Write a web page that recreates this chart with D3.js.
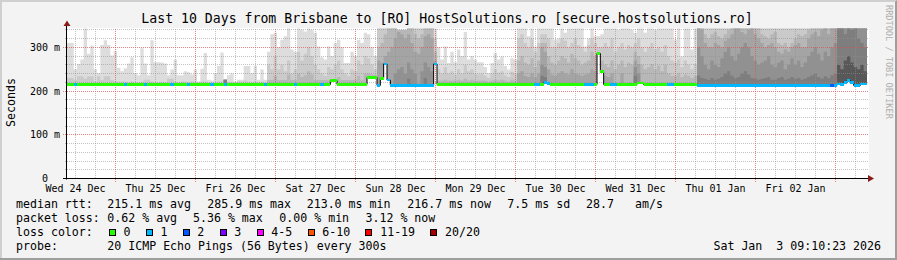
<!DOCTYPE html>
<html><head><meta charset="utf-8">
<script src="https://cdn.jsdelivr.net/npm/d3@7"></script>
<style>
html,body{margin:0;padding:0;background:#f3f3f3;}
svg{display:block;}
text{font-family:"DejaVu Sans Mono",monospace;white-space:pre;}
</style></head><body>
<svg id="c" width="897" height="260"></svg>
<script>
// ---------------- DATA ----------------
const title = "Last 10 Days from Brisbane to [RO] HostSolutions.ro [secure.hostsolutions.ro]";
const yTickValues = [0, 100, 200, 300];
const yTickLabels = ["0", "100 m", "200 m", "300 m"];
const dayLabels = ["Wed 24 Dec","Thu 25 Dec","Fri 26 Dec","Sat 27 Dec","Sun 28 Dec","Mon 29 Dec","Tue 30 Dec","Wed 31 Dec","Thu 01 Jan","Fri 02 Jan"];
// hourly median RTT (ms), 240 hours
const median = [
215,215,215,215,215,215,215,215,215,215,
215,215,215,215,215,215,215,215,215,215,
215,215,215,215,215,215,215,215,215,215,
215,215,215,215,215,215,215,215,215,215,
215,215,215,215,215,215,215,215,215,215,
215,215,215,215,215,215,215,215,215,215,
215,215,215,215,215,215,215,215,215,215,
215,215,215,215,215,215,215,215,215,224,
224,215,215,215,215,215,215,215,215,215,
231,231,231,213,229,262,225,213,213,213,
213,213,213,213,213,213,213,213,213,213,
262,215,215,215,215,215,215,215,215,215,
215,215,215,215,215,215,215,215,215,215,
215,215,215,215,215,215,215,215,215,215,
215,215,215,219,217,215,215,215,215,215,
215,215,215,215,215,215,215,215,215,286,
244,215,215,215,215,215,215,215,215,215,
215,218,218,215,215,215,215,215,215,215,
215,215,215,215,215,215,215,215,215,213,
213,213,213,213,213,213,213,213,213,213,
213,213,213,213,213,213,213,213,213,213,
213,213,213,213,213,213,213,213,213,213,
213,213,213,213,213,213,213,213,213,213,
213,216,215,219,224,219,213,213,216,216];
// loss class index per hour (0 -> "0", 1 -> "1", 2 -> "2", ...)
const loss = [
0,0,1,0,0,0,0,0,0,0,
0,0,0,0,0,0,0,1,0,0,
0,0,0,1,0,0,0,0,0,0,
0,1,0,0,0,0,1,0,0,0,
0,0,0,1,0,0,0,1,0,0,
0,0,0,0,0,0,0,0,0,1,
0,0,0,0,0,0,0,0,1,0,
0,0,0,0,0,0,1,0,0,0,
0,0,0,0,0,0,0,0,0,0,
0,0,0,1,0,1,1,1,1,1,
1,1,1,1,1,1,1,1,1,1,
1,0,0,0,0,0,0,0,0,0,
0,0,0,0,0,0,0,0,0,0,
0,0,0,0,0,0,0,0,0,0,
1,1,0,1,1,0,0,0,0,0,
0,0,0,0,0,1,1,1,0,0,
0,0,0,1,1,0,0,0,0,0,
0,0,0,0,0,0,0,0,0,0,
1,1,0,0,0,0,0,0,0,1,
1,1,1,1,1,1,1,1,1,1,
1,1,1,1,1,1,1,1,1,1,
1,1,1,1,1,1,1,1,1,1,
1,1,1,1,1,1,1,1,1,2,
1,1,1,1,1,1,1,1,1,1];
// smoke: upper edge (ms) reached by at least 1,2,3,4,5,6,8 pings (0 = none)
const smoke1 = [
310,310,250,262,272,345,285,304,250,241,
305,316,305,281,291,253,245,252,263,277,
241,236,298,263,236,316,266,266,265,263,
236,249,272,236,236,245,243,238,249,222,
251,287,226,224,241,257,288,226,236,240,
222,226,226,257,257,241,257,226,249,226,
290,330,333,300,317,325,344,295,290,344,
340,336,344,340,333,302,277,272,302,280,
310,317,300,264,264,290,280,317,310,333,
330,300,280,345,345,345,345,345,345,340,
340,340,345,345,345,345,345,345,345,345,
345,300,272,302,264,290,266,295,280,335,
272,280,272,266,266,255,241,264,287,272,
279,257,249,275,272,345,345,345,325,345,
302,345,345,345,345,345,317,320,345,333,
345,345,345,345,345,302,320,345,325,325,
330,345,345,345,345,340,345,345,345,340,
333,345,345,333,345,345,340,345,345,345,
345,345,317,345,279,345,345,295,345,345,
345,345,345,345,345,345,345,345,345,345,
345,345,345,345,345,345,345,345,345,345,
345,345,345,345,345,345,345,345,345,345,
345,345,345,345,345,345,345,345,345,345,
345,345,345,345,345,345,345,345,345,345];
const smoke2 = [
230,230,225,234,234,228,234,234,222,234,
225,234,234,225,222,222,222,222,220,222,
220,220,222,226,226,222,220,220,222,220,
228,228,222,220,222,222,220,222,220,220,
222,222,220,220,220,222,222,226,220,220,
220,222,222,224,222,220,222,220,222,220,
260,250,280,250,260,245,270,240,250,290,
270,285,300,280,260,250,240,235,255,250,
260,270,250,240,235,250,245,270,260,280,
275,260,250,345,345,345,345,345,345,338,
338,338,345,345,345,345,345,345,345,345,
320,250,240,255,240,245,238,250,240,260,
245,250,240,238,240,235,230,240,250,242,
245,236,232,244,240,320,330,310,300,320,
290,310,330,330,320,300,300,310,320,315,
300,310,320,305,300,290,305,320,310,300,
300,310,300,320,290,300,310,295,305,300,
310,320,300,290,300,310,295,300,290,305,
280,270,265,272,255,270,260,250,262,345,
345,345,345,345,345,345,345,345,345,345,
345,345,345,345,345,345,345,345,345,345,
345,345,345,345,345,345,345,345,345,345,
345,345,345,345,345,345,345,345,345,345,
345,345,345,345,345,345,345,345,345,345];
const smoke3 = [
0,0,0,0,0,0,0,0,0,0,
0,0,0,0,0,0,0,0,0,0,
0,0,0,0,0,0,0,0,0,0,
0,0,0,0,0,0,0,0,0,0,
0,0,0,0,0,0,0,226,0,0,
0,0,0,0,0,0,0,0,0,0,
225,225,235,225,225,225,238,225,225,240,
232,236,245,238,225,225,225,225,225,0,
0,232,225,225,225,225,225,235,225,240,
240,238,236,300,310,330,345,345,345,340,
340,340,345,345,330,320,330,345,345,345,
290,224,224,226,224,224,224,226,224,228,
224,226,224,224,224,224,222,224,226,224,
226,224,222,226,224,270,280,265,260,275,
255,270,310,310,280,265,260,270,280,275,
265,285,275,270,260,265,270,290,280,0,
270,260,255,270,250,260,270,255,265,260,
290,280,260,250,255,262,250,258,245,260,
240,235,235,240,232,238,235,230,235,345,
345,330,320,330,335,325,320,330,340,345,
345,345,345,345,345,345,345,345,330,325,
320,330,335,310,305,310,300,310,320,330,
325,330,340,345,345,345,345,345,345,345,
345,345,345,345,345,345,345,345,345,345];
const smoke4 = [
0,0,0,0,0,0,0,0,0,0,
0,0,0,0,0,0,0,0,0,0,
0,0,0,0,0,0,0,0,0,0,
0,0,0,0,0,0,0,0,0,0,
0,0,0,0,0,0,0,226,0,0,
0,0,0,0,0,0,0,0,0,0,
0,0,0,0,0,0,0,0,0,0,
0,0,0,0,0,0,0,0,0,0,
0,0,0,0,0,0,0,0,0,0,
0,0,0,270,265,280,290,300,320,335,
330,320,330,310,290,285,300,325,330,320,
270,0,0,0,0,0,0,0,0,0,
0,0,0,0,0,0,0,0,0,0,
0,0,0,0,0,240,245,235,232,240,
232,240,300,290,250,238,235,240,245,240,
238,250,240,238,235,238,240,250,245,0,
0,235,232,240,0,0,240,0,0,0,
270,262,0,0,0,0,0,0,0,0,
0,0,0,0,0,0,0,0,0,345,
340,310,300,300,310,305,300,315,320,330,
345,345,335,330,340,345,330,320,310,300,
305,310,300,290,285,295,290,300,305,310,
300,300,320,330,335,325,340,345,330,345,
345,345,345,345,345,345,345,345,345,345];
const smoke5 = [
0,0,0,0,0,0,0,0,0,0,
0,0,0,0,0,0,0,0,0,0,
0,0,0,0,0,0,0,0,0,0,
0,0,0,0,0,0,0,0,0,0,
0,0,0,0,0,0,0,226,0,0,
0,0,0,0,0,0,0,0,0,0,
0,0,0,0,0,0,0,0,0,0,
0,0,0,0,0,0,0,0,0,0,
0,0,0,0,0,0,0,0,0,0,
0,0,0,0,0,235,0,0,240,250,
255,240,265,250,240,0,245,265,255,245,
0,0,0,0,0,0,0,0,0,0,
0,0,0,0,0,0,0,0,0,0,
0,0,0,0,0,0,0,0,0,0,
0,0,260,255,0,0,0,0,0,0,
0,0,0,0,0,0,0,0,0,0,
0,0,0,0,0,0,0,0,0,0,
255,240,0,0,0,0,0,0,0,0,
0,0,0,0,0,0,0,0,0,300,
280,260,250,270,260,255,275,290,300,280,
270,285,300,310,300,280,270,260,265,270,
280,260,255,265,270,250,260,275,260,270,
255,265,280,290,300,285,270,290,280,300,
310,345,345,345,345,345,345,345,345,345];
const smoke6 = [
0,0,0,0,0,0,0,0,0,0,
0,0,0,0,0,0,0,0,0,0,
0,0,0,0,0,0,0,0,0,0,
0,0,0,0,0,0,0,0,0,0,
0,0,0,0,0,0,0,226,0,0,
0,0,0,0,0,0,0,0,0,0,
0,0,0,0,0,0,0,0,0,0,
0,0,0,0,0,0,0,0,0,0,
0,0,0,0,0,0,0,0,0,0,
0,0,0,0,0,0,0,0,0,0,
0,0,228,0,0,0,0,230,0,0,
0,0,0,0,0,0,0,0,0,0,
0,0,0,0,0,0,0,0,0,0,
0,0,0,0,0,0,0,0,0,0,
0,0,235,232,0,0,0,0,0,0,
0,0,0,0,0,0,0,0,0,0,
0,0,0,0,0,0,0,0,0,0,
235,0,0,0,0,0,0,0,0,0,
0,0,0,0,0,0,0,0,0,235,
230,228,225,230,226,228,232,240,245,235,
230,232,240,245,238,230,228,226,228,230,
232,226,226,230,232,226,228,232,228,230,
226,228,232,236,240,232,228,234,230,236,
240,345,345,330,345,340,345,320,310,300];
const smoke8 = [
0,0,0,0,0,0,0,0,0,0,
0,0,0,0,0,0,0,0,0,0,
0,0,0,0,0,0,0,0,0,0,
0,0,0,0,0,0,0,0,0,0,
0,0,0,0,0,0,0,0,0,0,
0,0,0,0,0,0,0,0,0,0,
0,0,0,0,0,0,0,0,0,0,
0,0,0,0,0,0,0,0,0,0,
0,0,0,0,0,0,0,0,0,0,
0,0,0,0,0,0,0,0,0,0,
0,0,0,0,0,0,0,0,0,0,
0,0,0,0,0,0,0,0,0,0,
0,0,0,0,0,0,0,0,0,0,
0,0,0,0,0,0,0,0,0,0,
0,0,0,0,0,0,0,0,0,0,
0,0,0,0,0,0,0,0,0,0,
0,0,0,0,0,0,0,0,0,0,
0,0,0,0,0,0,0,0,0,0,
0,0,0,0,0,0,0,0,0,0,
0,0,0,0,0,0,0,0,0,0,
0,0,0,0,0,0,0,0,0,0,
0,0,0,0,0,0,0,0,0,0,
0,0,0,0,0,0,0,0,0,0,
0,260,250,270,280,265,255,250,260,245];
const lossLabels = ["0","1","2","3","4-5","6-10","11-19","20/20"];
const rttStats = ["215.1 ms avg","285.9 ms max","213.0 ms min","216.7 ms now","7.5 ms sd","28.7","am/s"];
const lossStats = ["0.62 % avg","5.36 % max","0.00 % min","3.12 % now"];
const probeText = "20 ICMP Echo Pings (56 Bytes) every 300s";
const dateText = "Sat Jan  3 09:10:23 2026";
const watermark = "RRDTOOL / TOBI OETIKER";

// ---------------- STYLE / LAYOUT ----------------
const lossColors = ["#26ff00","#00b8ff","#0059ff","#7e00ff","#ff00ff","#ff5500","#ff0000","#a00000"];
const smokeLayers = [smoke1, smoke2, smoke3, smoke4, smoke5, smoke6, smoke8];
const smokeColors = ["#dddddd","#cacaca","#b7b7b7","#a4a4a4","#919191","#7e7e7e","#585858"];
const W = 897, H = 260;
const X0 = 67, X1 = 867, YB = 178.5, YT = 28.5;
const HOUR = 3600e3;
const t0 = Date.UTC(2025, 11, 24, 9, 27);
const N = median.length;

const svg = d3.select("#c");
const x = d3.scaleUtc([new Date(t0), new Date(t0 + N * HOUR)], [X0, X1]);
const y = d3.scaleLinear([0, 343], [YB, YT]);
const tk = k => new Date(t0 + k * HOUR);

// background + shading
svg.append("rect").attr("width", W).attr("height", H).attr("fill", "#f3f3f3");
svg.append("path").attr("d", `M0,0H${W}V2H2V${H}H0Z`).attr("fill", "#cfcfcf");
svg.append("path").attr("d", `M${W},0V${H}H0V${H-2}H${W-2}V2Z`).attr("fill", "#9e9e9e");

// canvas
svg.append("rect").attr("x", X0).attr("y", 28).attr("width", X1 - X0 + 2).attr("height", YB - 28)
  .attr("fill", "#ffffff");

svg.append("defs").append("clipPath").attr("id", "plot")
  .append("rect").attr("x", X0).attr("y", YT).attr("width", X1 - X0).attr("height", YB - YT);

// smoke
const idx = d3.range(N + 1);
const at = (arr, i) => arr[Math.min(i, N - 1)];
const gSmoke = svg.append("g").attr("clip-path", "url(#plot)");
smokeLayers.forEach((arr, li) => {
  const area = d3.area().curve(d3.curveStepAfter)
    .x(i => x(tk(i)))
    .y0(i => y(at(median, i)))
    .y1(i => y(Math.max(at(arr, i), at(median, i))));
  gSmoke.append("path").attr("d", area(idx)).attr("fill", smokeColors[li]);
});

// grid
const gGrid = svg.append("g").attr("shape-rendering", "crispEdges");
const minorCol = "rgba(143,143,143,0.55)", majorCol = "rgba(222,80,80,0.7)";
const yMinor = d3.range(20, 343, 20).filter(v => v % 100 !== 0);
const yMajor = [100, 200, 300];
const sy = v => Math.floor(y(v)) + 0.5;
yMinor.forEach(v => gGrid.append("line").attr("x1", X0 - 2).attr("x2", X1 + 2)
  .attr("y1", sy(v)).attr("y2", sy(v)).attr("stroke", minorCol).attr("stroke-dasharray", "1,1"));
const days = d3.utcDay.range(tk(0), tk(N));
const minorT = d3.utcHour.every(6).range(tk(0), tk(N)).filter(d => d.getUTCHours() !== 0);
minorT.forEach(d => { const xx = Math.floor(x(d)) + 0.5;
  gGrid.append("line").attr("x1", xx).attr("x2", xx).attr("y1", YT).attr("y2", YB)
    .attr("stroke", minorCol).attr("stroke-dasharray", "1,1"); });
yMajor.forEach(v => gGrid.append("line").attr("x1", X0 - 4).attr("x2", X1 + 2)
  .attr("y1", sy(v)).attr("y2", sy(v)).attr("stroke", majorCol).attr("stroke-dasharray", "1,1"));
days.forEach(d => { const xx = Math.floor(x(d)) + 0.5;
  gGrid.append("line").attr("x1", xx).attr("x2", xx).attr("y1", YT).attr("y2", YB + 3)
    .attr("stroke", majorCol).attr("stroke-dasharray", "1,1"); });

// median black step line
const mline = d3.line().curve(d3.curveStepAfter).x(i => x(tk(i))).y(i => y(at(median, i)));
svg.append("path").attr("d", mline(idx)).attr("fill", "none").attr("stroke", "#000").attr("stroke-width", 1);

// median band coloured by loss
svg.append("g").attr("shape-rendering", "crispEdges").selectAll("rect").data(median).join("rect")
  .attr("x", (m, k) => x(tk(k))).attr("width", (m, k) => x(tk(k + 1)) - x(tk(k)))
  .attr("y", m => y(m) - 1.3).attr("height", 2.6)
  .attr("fill", (m, k) => lossColors[loss[k]]);

// axes
svg.append("line").attr("x1", X0 - 0.5).attr("x2", X0 - 0.5).attr("y1", YB + 1).attr("y2", 25)
  .attr("stroke", "#000");
svg.append("line").attr("x1", X0 - 4).attr("x2", X1 + 2).attr("y1", YB).attr("y2", YB)
  .attr("stroke", "#000");
svg.append("path").attr("d", `M63.5,26L70.5,26L67,20.5Z`).attr("fill", "#8c1c1c");
svg.append("path").attr("d", `M868,175L868,182L874,178.5Z`).attr("fill", "#8c1c1c");

// y tick labels
svg.append("g").selectAll("text").data(yTickValues).join("text")
  .attr("x", (v, i) => yTickLabels[i].includes(" ") ? 60 : 48)
  .attr("y", v => y(v) + 3.6).attr("text-anchor", "end")
  .attr("font-size", "10px").attr("fill", "#000").text((v, i) => yTickLabels[i]);

// x day labels (centred at noon)
svg.append("g").selectAll("text").data(dayLabels).join("text")
  .attr("x", (d, i) => x(new Date(Date.UTC(2025, 11, 24, 12) + i * 24 * HOUR)))
  .attr("y", 191.5).attr("text-anchor", "middle").attr("font-size", "10px").text(d => d);

// y axis title
svg.append("text").attr("transform", "translate(14.5,102.5) rotate(-90)")
  .attr("text-anchor", "middle").attr("font-size", "11.6px").text("Seconds");

// title
svg.append("text").attr("x", 447).attr("y", 23).attr("text-anchor", "middle")
  .attr("font-size", "13.2px").text(title);

// watermark
svg.append("text").attr("transform", "translate(885.5,5) rotate(90)")
  .attr("font-size", "8.6px").attr("fill", "#b0b0b0").text(watermark);

// legend
const LF = "11.6px", CW = 6.98;
const leg = svg.append("g").attr("font-size", LF).attr("fill", "#000");
const rows = [207.5, 221.5, 235.5, 249.5];
leg.append("text").attr("x", 16).attr("y", rows[0]).text("median rtt:");
const rttX = [107.3, 207.3, 306.7, 407.3, 507.3, 586, 635];
rttStats.forEach((s, i) => leg.append("text").attr("x", rttX[i]).attr("y", rows[0]).text(s));
leg.append("text").attr("x", 16).attr("y", rows[1]).text("packet loss:");
const lossX = [107.3, 193, 279.3, 365.5];
lossStats.forEach((s, i) => leg.append("text").attr("x", lossX[i]).attr("y", rows[1]).text(s));
leg.append("text").attr("x", 16).attr("y", rows[2]).text("loss color:");
let bx = 108.7;
lossLabels.forEach((l, i) => {
  leg.append("rect").attr("x", Math.round(bx) + 0.5).attr("y", 229.5).attr("width", 6).attr("height", 6)
    .attr("fill", lossColors[i]).attr("stroke", "#000").attr("stroke-width", 1);
  leg.append("text").attr("x", bx + 14.7).attr("y", rows[2]).text(l);
  bx = bx + 14.7 + l.length * CW + 15.3;
});
leg.append("text").attr("x", 16).attr("y", rows[3]).text("probe:");
leg.append("text").attr("x", 107.3).attr("y", rows[3]).text(probeText);
leg.append("text").attr("x", 881).attr("y", rows[3]).attr("text-anchor", "end").text(dateText);
</script>
</body></html>
